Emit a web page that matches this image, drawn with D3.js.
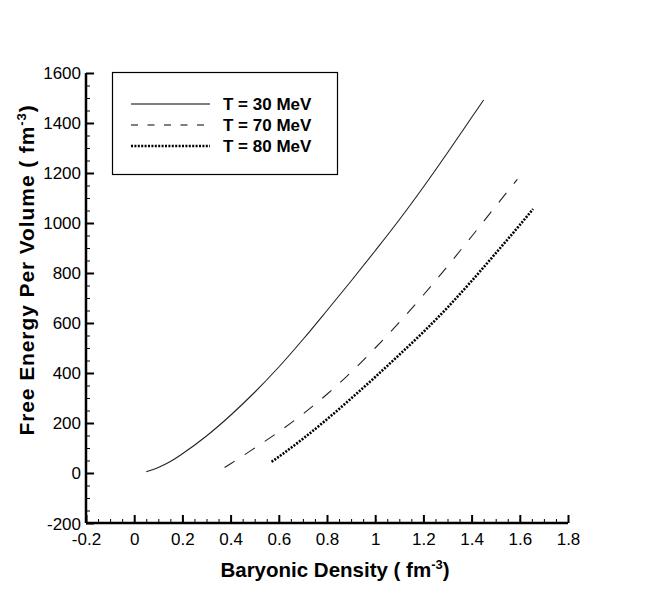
<!DOCTYPE html>
<html>
<head>
<meta charset="utf-8">
<script src="https://cdn.jsdelivr.net/npm/d3@7"></script>
<style>
  body { margin: 0; background: #fff; }
  text { font-family: "Liberation Sans", Arial, sans-serif; }
</style>
</head>
<body>
<svg id="chart" width="664" height="591"></svg>
<script>
// series (density fm^-3, free energy per volume)
var dens30 = [0.05, 0.1, 0.15, 0.2, 0.3, 0.4, 0.5, 0.6, 0.7, 0.8, 0.9, 1.0, 1.1, 1.2, 1.3, 1.4, 1.45];
var free30 = [5, 22, 46, 77, 148, 231, 323, 424, 534, 650, 768, 889, 1013, 1144, 1281, 1422, 1492];

var dens70 = [0.375, 0.4, 0.5, 0.6, 0.7, 0.8, 0.9, 1.0, 1.1, 1.2, 1.3, 1.4, 1.5, 1.59];
var free70 = [22, 37, 100, 165, 236, 315, 403, 500, 603, 712, 827, 946, 1067, 1175];

var dens80 = [0.57, 0.6, 0.7, 0.8, 0.9, 1.0, 1.1, 1.2, 1.3, 1.4, 1.5, 1.6, 1.655];
var free80 = [45, 65, 137, 215, 298, 384, 473, 564, 662, 768, 879, 992, 1056];

var seriesNames = ["T = 30 MeV", "T = 70 MeV", "T = 80 MeV"];
var xTicks = [-0.2, 0, 0.2, 0.4, 0.6, 0.8, 1, 1.2, 1.4, 1.6, 1.8];
var yTicks = [-200, 0, 200, 400, 600, 800, 1000, 1200, 1400, 1600];

var svg = d3.select("#chart");

var x = d3.scaleLinear().domain([-0.2, 1.8]).range([86, 568]);
var y = d3.scaleLinear().domain([-200, 1600]).range([523, 73]);

function label(d){ return String(+(+d).toFixed(1)); }

// minor ticks first
var xMinor = d3.range(-0.2, 1.8001, 0.05);
var yMinor = d3.range(-200, 1600.1, 50);

svg.append("g")
  .attr("transform", "translate(0," + y(-200) + ")")
  .call(d3.axisBottom(x).tickValues(xMinor).tickSize(-4).tickFormat(""))
  .call(function(g){ g.select(".domain").remove(); })
  .selectAll("line").attr("stroke", "#000").attr("stroke-width", 1);

svg.append("g")
  .attr("transform", "translate(" + x(-0.2) + ",0)")
  .call(d3.axisLeft(y).tickValues(yMinor).tickSize(-4).tickFormat(""))
  .call(function(g){ g.select(".domain").remove(); })
  .selectAll("line").attr("stroke", "#000").attr("stroke-width", 1);

// major axes
var xAxis = svg.append("g")
  .attr("transform", "translate(0," + y(-200) + ")")
  .call(d3.axisBottom(x).tickValues(xTicks).tickSize(-8).tickPadding(10).tickFormat(label));
xAxis.select(".domain").attr("stroke-width", 2.5).attr("d", "M" + x(-0.2) + ",0H" + x(1.8));
xAxis.selectAll("line").attr("stroke-width", 2);
xAxis.selectAll("text").attr("font-size", 17).attr("fill", "#000");

var yAxis = svg.append("g")
  .attr("transform", "translate(" + x(-0.2) + ",0)")
  .call(d3.axisLeft(y).tickValues(yTicks).tickSize(-8).tickPadding(5).tickFormat(label));
yAxis.select(".domain").attr("stroke-width", 2.5).attr("d", "M0," + y(1600) + "V" + y(-200));
yAxis.selectAll("line").attr("stroke-width", 2);
yAxis.selectAll("text").attr("font-size", 17).attr("fill", "#000");
// bottom y label sits a touch lower, like the original
yAxis.selectAll(".tick text").filter(function(d){ return d == -200; }).attr("dy", "0.4em");

// curves
var line = d3.line().x(function(d){ return x(d[0]); }).y(function(d){ return y(d[1]); }).curve(d3.curveMonotoneX);

function pairs(a, b){ return a.map(function(v, i){ return [v, b[i]]; }); }

svg.append("path").datum(pairs(dens30, free30))
  .attr("d", line).attr("fill", "none").attr("stroke", "#222").attr("stroke-width", 1.1);
svg.append("path").datum(pairs(dens70, free70))
  .attr("d", line).attr("fill", "none").attr("stroke", "#222").attr("stroke-width", 1.1)
  .attr("stroke-dasharray", "12,12");
svg.append("path").datum(pairs(dens80, free80))
  .attr("d", line).attr("fill", "none").attr("stroke", "#000").attr("stroke-width", 2.6)
  .attr("stroke-dasharray", "2,1.4");

// legend
svg.append("rect").attr("x", 112.5).attr("y", 72.5).attr("width", 225).attr("height", 102)
  .attr("fill", "#fff").attr("stroke", "#000").attr("stroke-width", 1.2);

var legDash = [null, "7,9.5", "2,1.4"];
var legWidth = [1.1, 1.1, 2.6];
seriesNames.forEach(function(name, i){
  var cy = 104 + i * 21;
  svg.append("line").attr("x1", 131).attr("x2", 210).attr("y1", cy).attr("y2", cy)
    .attr("stroke", "#000").attr("stroke-width", legWidth[i])
    .attr("stroke-dasharray", legDash[i]);
  svg.append("text").attr("x", 223).attr("y", cy + 6).attr("font-size", 17)
    .attr("font-weight", "bold").text(name);
});

// axis titles
var xt = svg.append("text").attr("x", 335).attr("y", 577).attr("text-anchor", "middle")
  .attr("font-size", 20.5).attr("font-weight", "bold");
xt.append("tspan").text("Baryonic Density ( fm");
xt.append("tspan").attr("font-size", 13).attr("dy", -8).text("-3");
xt.append("tspan").attr("dy", 8).text(")");

var yt = svg.append("text").attr("transform", "translate(34,270) rotate(-90)")
  .attr("text-anchor", "middle").attr("font-size", 21).attr("font-weight", "bold")
  .attr("letter-spacing", 0.9);
yt.append("tspan").text("Free Energy Per Volume (  fm");
yt.append("tspan").attr("font-size", 13).attr("dy", -8).text("-3");
yt.append("tspan").attr("dy", 8).text(")");
</script>
</body>
</html>
